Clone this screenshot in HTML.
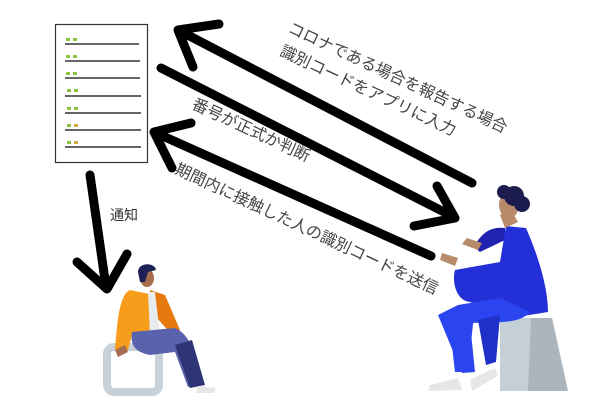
<!DOCTYPE html>
<html><head><meta charset="utf-8"><style>
body{margin:0;background:#fff;width:595px;height:419px;overflow:hidden;position:relative;font-family:"Liberation Sans","Noto Sans CJK JP",sans-serif}
.t{position:absolute;white-space:nowrap;color:#444;font-size:16px;transform-origin:0 0;transform:rotate(25deg);line-height:1}
</style></head><body>
<svg width="595" height="419" style="position:absolute;left:0;top:0">
<rect x="55.5" y="24.5" width="92" height="138" fill="#fff" stroke="#333" stroke-width="1.2"/>
<g stroke="#333" stroke-width="1.5">
<line x1="65" y1="44" x2="139" y2="44"/><line x1="65" y1="61" x2="140" y2="61"/>
<line x1="65" y1="78" x2="140" y2="78"/><line x1="65" y1="96" x2="141" y2="96"/>
<line x1="65" y1="113" x2="141" y2="113"/><line x1="65" y1="130" x2="141" y2="130"/>
<line x1="65" y1="147" x2="141" y2="147"/></g>
<g fill="#8cc63f">
<rect x="66" y="38" width="4" height="3"/><rect x="73" y="38" width="4" height="3"/>
<rect x="66" y="55" width="4" height="3"/><rect x="73" y="55" width="4" height="3"/>
<rect x="66" y="72" width="4" height="3"/><rect x="73" y="72" width="4" height="3"/>
<rect x="67" y="89" width="4" height="3"/><rect x="74" y="89" width="4" height="3"/>
<rect x="67" y="107" width="4" height="3"/><rect x="74" y="107" width="4" height="3"/>
<rect x="67" y="124" width="4" height="3"/><rect x="67" y="141" width="4" height="3"/></g>
<rect x="74" y="124" width="4" height="3" fill="#d4a843"/><rect x="74" y="141" width="4" height="3" fill="#d4a843"/>
<g stroke="#000" stroke-width="9" fill="none" stroke-linecap="round" stroke-linejoin="round">
<line x1="472" y1="183" x2="180" y2="31"/><polyline points="219,24 178,30 193,67"/>
<line x1="161" y1="68" x2="452" y2="216"/><polyline points="437,186 455,218 414,226"/>
<line x1="431" y1="256" x2="156" y2="133"/><polyline points="191,123 154,132 172,168"/>
<line x1="90" y1="175" x2="106" y2="287"/><polyline points="77,262 107,289 127,254"/>
</g>
<polygon points="500,318 552,318 568,391 500,391" fill="#c5cfd6"/>
<polygon points="531,318 552,318 568,391 528,391" fill="#adb5bc"/>
<path d="M505,228 C488,226 482,236 478,240 L474,247 L480,252 L505,240 Z" fill="#2222b0"/>
<path d="M506,226 L526,228 C540,260 548,290 548,312 L510,318 L470,302 C455,300 452,280 455,270 L500,262 Z" fill="#2330d8"/>
<path d="M458,305 L500,298 L530,312 C520,325 490,322 470,323 L475,372 L462,373 L438,315 Z" fill="#2a45f0"/>
<path d="M478,320 L500,315 L496,362 L486,365 Z" fill="#1f30c8"/>
<path d="M448,312 L475,305 L468,372 L455,372 Z" fill="#2a45f0"/>
<path d="M430,385 L458,378 L462,390 L428,391 Z" fill="#e6e6e6"/>
<path d="M470,380 L495,368 L498,376 L472,391 Z" fill="#e6e6e6"/>
<path d="M500,215 L510,208 L518,222 L505,228 Z" fill="#b88b6a"/>
<ellipse cx="509" cy="205" rx="10" ry="13" fill="#b88b6a"/>
<circle cx="514" cy="196" r="10" fill="#1c1c4e"/><circle cx="522" cy="204" r="8" fill="#1c1c4e"/><circle cx="504" cy="192" r="7" fill="#1c1c4e"/>
<path d="M467,238 L482,243 L478,250 L462,244 Z" fill="#b88b6a"/>
<path d="M442,253 L458,258 L455,266 L440,260 Z" fill="#b88b6a"/>
<rect x="107" y="347" width="52" height="45" rx="7" fill="none" stroke="#c8d1d7" stroke-width="8"/>
<path d="M130,290 C118,295 117,330 115,350 L128,350 L132,335 L150,338 L154,295 Z" fill="#f79c1b"/>
<path d="M150,290 L165,295 L180,330 L172,335 L150,310 Z" fill="#e6780e"/>
<path d="M148,292 L155,292 L160,335 L150,335 Z" fill="#e8ebee"/>
<path d="M132,332 L175,328 C190,335 195,350 200,385 L188,387 L175,352 L150,355 C135,352 130,345 132,332 Z" fill="#5b62ad"/>
<path d="M175,345 L192,340 L205,385 L190,388 Z" fill="#2d3577"/>
<path d="M115,350 L125,345 L128,352 L118,357 Z" fill="#a56d4e"/>
<ellipse cx="147" cy="278" rx="7" ry="9" fill="#a56d4e"/>
<path d="M138,272 C138,262 155,262 156,270 L148,272 L145,282 L140,282 Z" fill="#1e2155"/>
<path d="M198,386 L216,388 L214,393 L196,393 Z" fill="#e6e6e6"/>
</svg>
<div class="t" style="left:292px;top:21px">コロナである場合を報告する場合</div>
<div class="t" style="left:284px;top:44px">識別コードをアプリに入力</div>
<div class="t" style="left:196px;top:97px">番号が正式か判断</div>
<div class="t" style="left:179px;top:162px">期間内に接触した人の識別コードを送信</div>
<div style="position:absolute;left:110px;top:205px;font-size:14px;color:#333">通知</div>
</body></html>
